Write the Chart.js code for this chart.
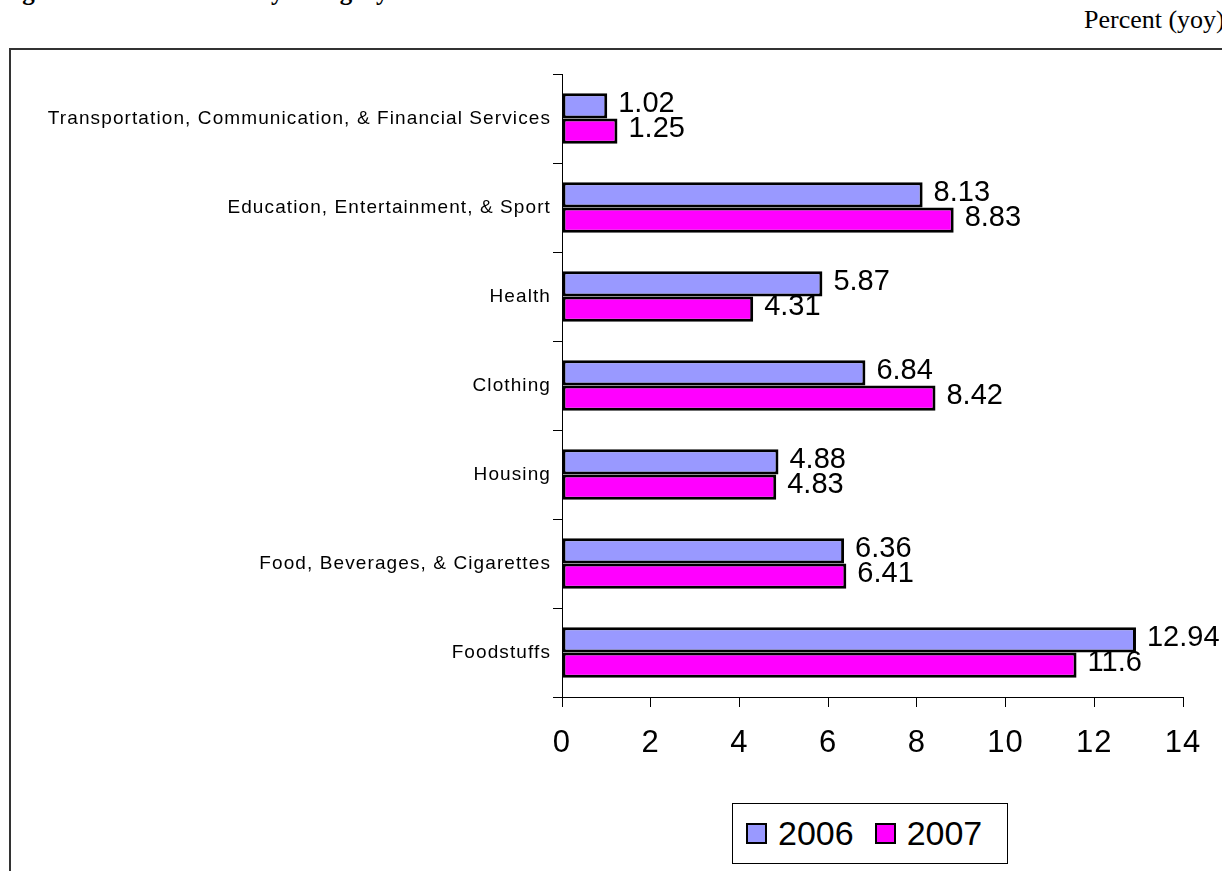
<!DOCTYPE html>
<html>
<head>
<meta charset="utf-8">
<script src="https://cdn.jsdelivr.net/npm/chart.js@4.4.1/dist/chart.umd.min.js"></script>
<style>
  html, body { margin: 0; padding: 0; background: #fff; overflow: hidden; }
  body { width: 1222px; height: 871px; position: relative; }
  #title { position: absolute; left: 0; top: -21px; font: bold 25px "Liberation Serif", serif; line-height: 25px; white-space: nowrap; }
  #unit { position: absolute; left: 1084px; top: 7px; font: 26px "Liberation Serif", serif; line-height: 26px; white-space: nowrap; }
  #frame { position: absolute; left: 9px; top: 48px; width: 1300px; height: 900px; border: 2px solid #333; }
  #wrap { position: absolute; left: 0; top: 0; width: 1222px; height: 871px; }
  #legend { position: absolute; left: 732px; top: 803px; width: 274px; height: 59px; border: 1px solid #000;
            background: #fff; display: flex; align-items: center; font: 34px "Liberation Sans", Arial, sans-serif; }
  .sw { width: 17px; height: 17px; border: 2px solid #000; }
  .item { display: flex; align-items: center; }
</style>
</head>
<body>
<div id="title">Figure 1. Inflation Rate by Category</div>
<div id="unit">Percent (yoy)</div>
<div id="frame"></div>
<div id="wrap"><canvas id="myChart"></canvas></div>
<div id="legend"></div>
<script>
const categories = [
  "Transportation, Communication, & Financial Services",
  "Education, Entertainment, & Sport",
  "Health",
  "Clothing",
  "Housing",
  "Food, Beverages, & Cigarettes",
  "Foodstuffs"
];
const values2006 = [1.02, 8.13, 5.87, 6.84, 4.88, 6.36, 12.94];
const values2007 = [1.25, 8.83, 4.31, 8.42, 4.83, 6.41, 11.6];
const xTicks = [0, 2, 4, 6, 8, 10, 12, 14];
const seriesNames = ["2006", "2007"];
const seriesColors = ["#9999FF", "#FF00FF"];

// the category labels in the original are widely spaced, so spread them a bit
const labelSpacing = {
  id: "labelSpacing",
  beforeDraw(chart) {
    chart.ctx.letterSpacing = "1.1px";
  },
  beforeDatasetsDraw(chart) {
    chart.ctx.letterSpacing = "0px";
  }
};

const valueLabels = {
  id: "valueLabels",
  afterDatasetsDraw(chart) {
    const ctx = chart.ctx;
    ctx.save();
    ctx.font = '29px "Liberation Sans", Arial, sans-serif';
    ctx.fillStyle = "#000";
    ctx.textBaseline = "middle";
    ctx.textAlign = "left";
    chart.data.datasets.forEach((ds, i) => {
      const meta = chart.getDatasetMeta(i);
      meta.data.forEach((bar, j) => {
        ctx.fillText(String(ds.data[j]), bar.x + 11, bar.y - 2);
      });
    });
    ctx.restore();
  }
};

const data = {
  labels: categories,
  datasets: [
    { label: seriesNames[0], data: values2006, backgroundColor: seriesColors[0], borderColor: "#000", borderWidth: 3, borderSkipped: false },
    { label: seriesNames[1], data: values2007, backgroundColor: seriesColors[1], borderColor: "#000", borderWidth: 3, borderSkipped: false }
  ]
};

const config = {
  type: "bar",
  data,
  options: {
    indexAxis: "y",
    responsive: false,
    animation: false,
    categoryPercentage: 0.57,
    barPercentage: 1.0,
    layout: { padding: { top: 74, right: 39, left: 0, bottom: 0 } },
    plugins: { legend: { display: false }, tooltip: { enabled: false } },
    scales: {
      x: {
        min: 0,
        max: 14,
        z: 1,
        afterFit: (scale) => { scale.height = 174; },
        afterBuildTicks: (scale) => { scale.ticks = xTicks.map((v) => ({ value: v })); },
        grid: { drawOnChartArea: false, color: "#000", tickLength: 10 },
        border: { color: "#000", width: 1 },
        ticks: { color: "#000", padding: 18, maxRotation: 0, font: { family: '"Liberation Sans", Arial', size: 31 } }
      },
      y: {
        afterFit: (scale) => { scale.width = 562; },
        grid: { drawOnChartArea: false, color: "#000", tickLength: 9 },
        border: { color: "#000", width: 1 },
        ticks: { color: "#000", padding: 2, font: { family: '"Liberation Sans", Arial', size: 19 } }
      }
    }
  },
  plugins: [labelSpacing, valueLabels]
};

const myChart = document.getElementById("myChart");
myChart.width = 1222;
myChart.height = 871;
const chart = new Chart(myChart, config);

let html = "";
seriesNames.forEach((name, i) => {
  html += `<div class="item" style="margin-left:${i === 0 ? 13 : 21}px"><div class="sw" style="background:${seriesColors[i]}"></div><span style="margin-left:11px">${name}</span></div>`;
});
document.getElementById("legend").innerHTML = html;
</script>
</body>
</html>
